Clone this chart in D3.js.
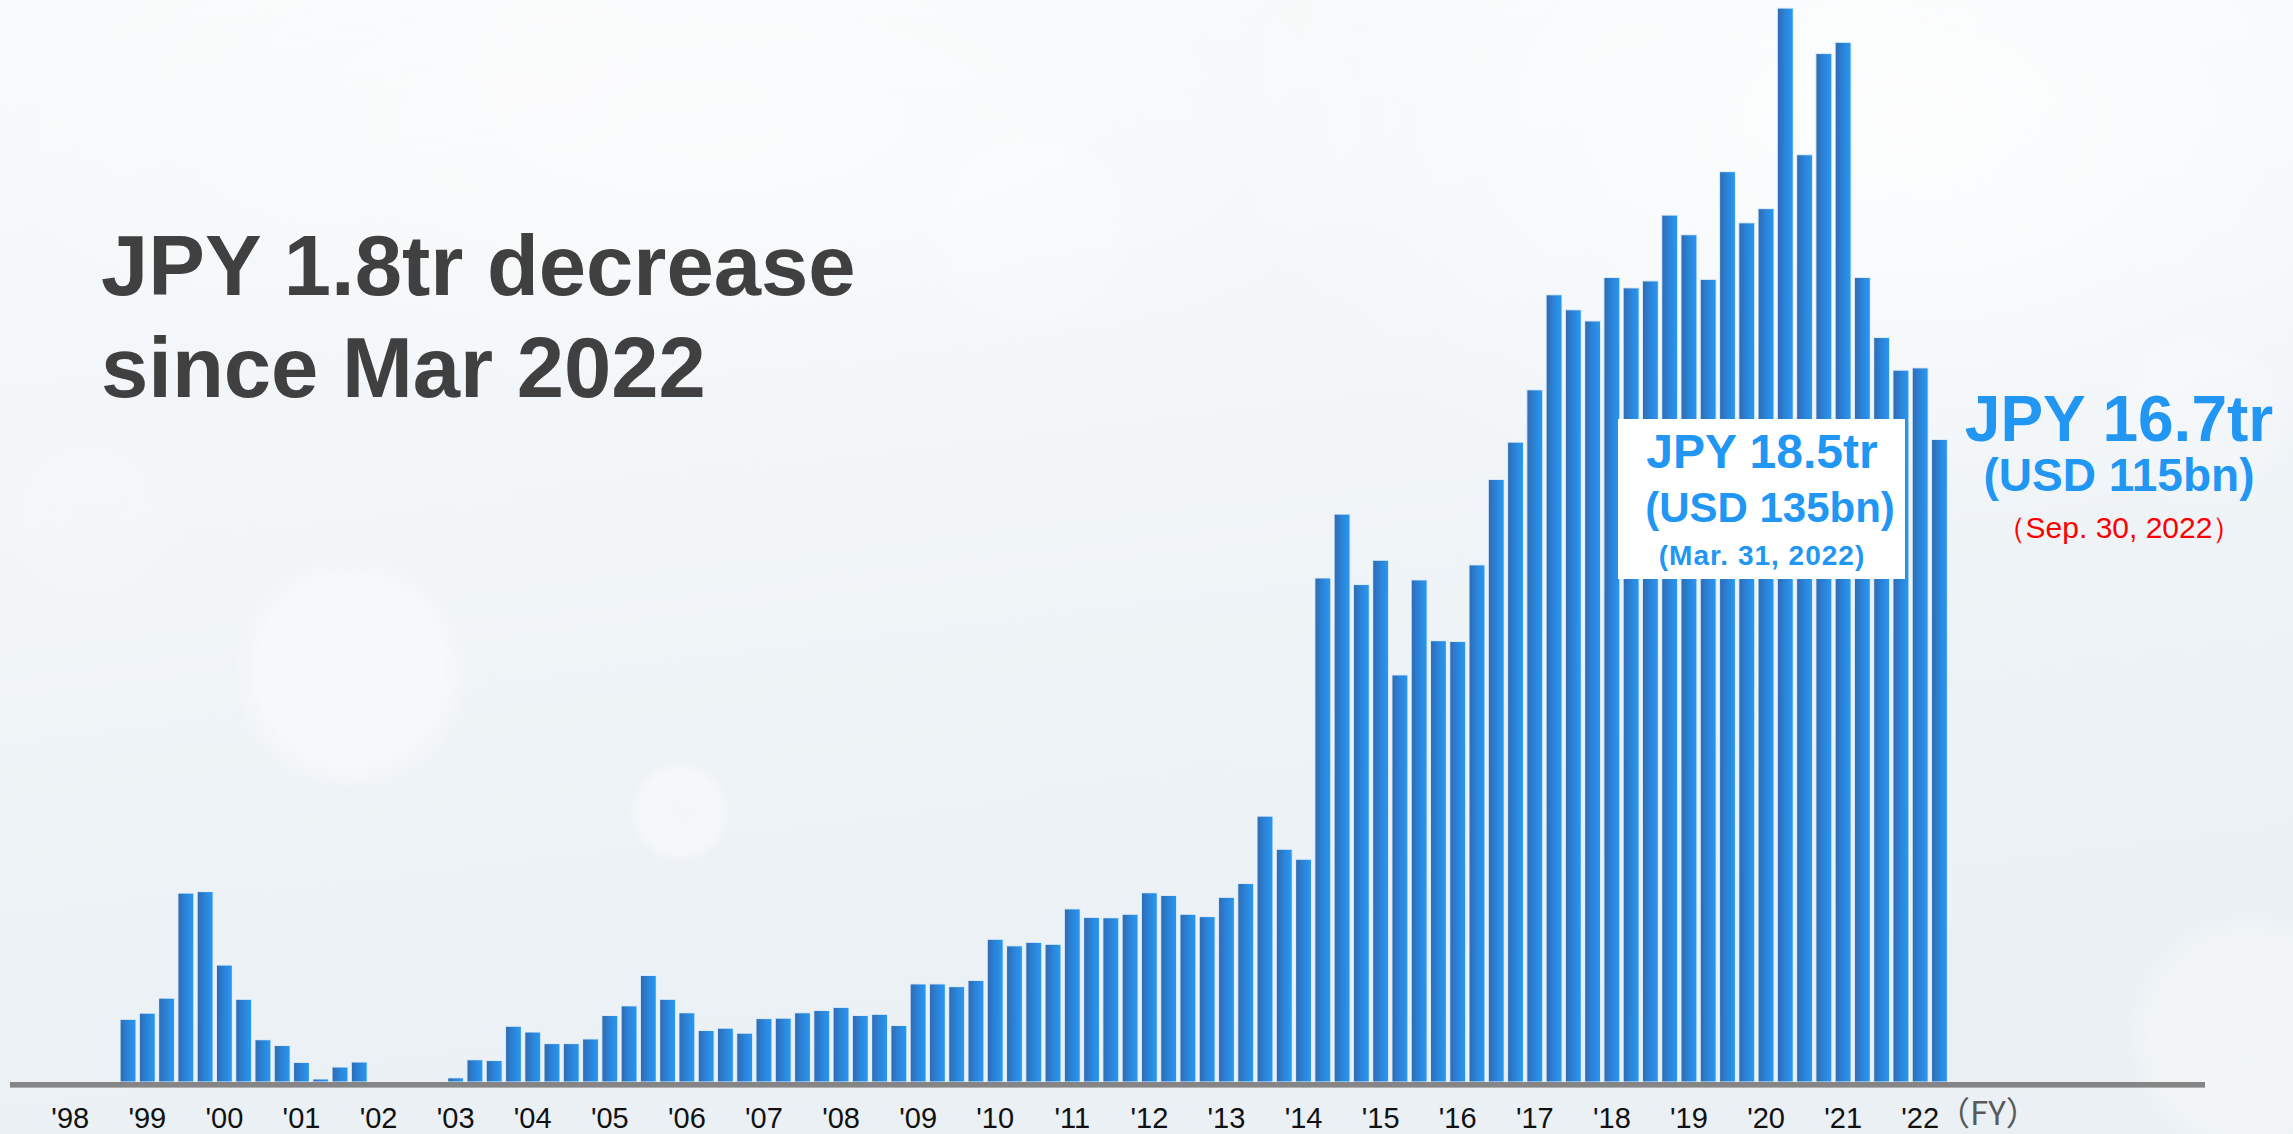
<!DOCTYPE html>
<html>
<head>
<meta charset="utf-8">
<script src="https://cdn.jsdelivr.net/npm/d3@7"></script>
<style>
  html, body { margin: 0; padding: 0; overflow: hidden; background: #f2f6f8; }
  svg { display: block; }
</style>
</head>
<body>
<svg id="chart" width="2293" height="1134"></svg>
<script>
// Quarterly balance, JPY trillion, FY1998 Q1 through FY2022 Q2 (fiscal year starts in April)
const fiscalYears = d3.range(1998, 2023);
const quarterNames = ["Q1", "Q2", "Q3", "Q4"];
const quarterKeys = fiscalYears
  .flatMap(fy => quarterNames.map(q => `FY${fy}${q}`))
  .slice(0, 98);

const balanceTrillionYen = [
  null, null, null, 1.63,        // FY98
  1.79, 2.18, 4.91, 4.95,        // FY99
  3.04, 2.15, 1.10, 0.95,        // FY00
  0.51, 0.08, 0.39, 0.52,        // FY01
  0, 0, 0, 0,                    // FY02
  0.11, 0.58, 0.56, 1.45,        // FY03
  1.30, 1.00, 1.00, 1.12,        // FY04
  1.73, 1.98, 2.77, 2.15,        // FY05
  1.80, 1.34, 1.40, 1.27,        // FY06
  1.65, 1.66, 1.80, 1.86,        // FY07
  1.94, 1.73, 1.76, 1.47,        // FY08
  2.55, 2.55, 2.48, 2.64,        // FY09
  3.71, 3.54, 3.63, 3.58,        // FY10
  4.50, 4.28, 4.27, 4.36,        // FY11
  4.92, 4.85, 4.36, 4.30,        // FY12
  4.80, 5.16, 6.91, 6.05,        // FY13
  5.79, 13.10, 14.76, 12.93,     // FY14
  13.56, 10.58, 13.05, 11.47,    // FY15
  11.45, 13.44, 15.66, 16.63,    // FY16
  17.99, 20.46, 20.07, 19.78,    // FY17
  20.91, 20.64, 20.82, 22.53,    // FY18
  22.02, 20.86, 23.66, 22.33,    // FY19
  22.70, 27.91, 24.10, 26.73,    // FY20
  27.02, 20.91, 19.35, 18.50,    // FY21
  18.56, 16.70                   // FY22
];

const yearTickLabels = ["'98", "'99", "'00", "'01", "'02", "'03", "'04", "'05", "'06",
  "'07", "'08", "'09", "'10", "'11", "'12", "'13", "'14", "'15", "'16", "'17", "'18",
  "'19", "'20", "'21", "'22"];

const headlineLines = ["JPY 1.8tr decrease", "since Mar 2022"];
const marchNote = ["JPY 18.5tr", "(USD 135bn)", "(Mar. 31, 2022)"];
const septemberNote = ["JPY 16.7tr", "(USD 115bn)", "\uFF08Sep. 30, 2022\uFF09"];

const bars = quarterKeys
  .map((key, i) => ({ key, value: balanceTrillionYen[i] }))
  .filter(d => d.value !== null);

const W = 2293, H = 1134;
const baseY = 1082;
const svg = d3.select("#chart");
const defs = svg.append("defs");

// ---- background: pale sky with soft bokeh discs ----
const bg = defs.append("linearGradient").attr("id", "bgGrad")
  .attr("x1", 0).attr("y1", 0).attr("x2", 0.25).attr("y2", 1);
bg.append("stop").attr("offset", 0).attr("stop-color", "#f8fafb");
bg.append("stop").attr("offset", 0.5).attr("stop-color", "#f1f5f8");
bg.append("stop").attr("offset", 1).attr("stop-color", "#eaf0f4");

const glow = defs.append("radialGradient").attr("id", "glow");
glow.append("stop").attr("offset", 0).attr("stop-color", "#ffffff").attr("stop-opacity", 0.8);
glow.append("stop").attr("offset", 1).attr("stop-color", "#ffffff").attr("stop-opacity", 0);

const bokeh = defs.append("radialGradient").attr("id", "bokeh");
bokeh.append("stop").attr("offset", 0).attr("stop-color", "#ffffff").attr("stop-opacity", 0.45);
bokeh.append("stop").attr("offset", 0.78).attr("stop-color", "#ffffff").attr("stop-opacity", 0.5);
bokeh.append("stop").attr("offset", 0.9).attr("stop-color", "#ffffff").attr("stop-opacity", 0.25);
bokeh.append("stop").attr("offset", 1).attr("stop-color", "#ffffff").attr("stop-opacity", 0);

svg.append("rect").attr("width", W).attr("height", H).attr("fill", "url(#bgGrad)");
svg.append("ellipse").attr("cx", 1900).attr("cy", 120).attr("rx", 700).attr("ry", 420)
  .attr("fill", "url(#glow)");
svg.append("ellipse").attr("cx", 700).attr("cy", 120).attr("rx", 800).attr("ry", 300)
  .attr("fill", "url(#glow)").attr("opacity", 0.6);

const discs = [
  [351, 673, 118, 0.9], [680, 812, 52, 0.8], [2250, 1035, 125, 0.7],
  [1031, 228, 105, 0.4], [560, 70, 95, 0.35], [1480, 1010, 70, 0.35],
  [90, 520, 80, 0.3], [2200, 420, 90, 0.35]
];
svg.append("g").selectAll("circle").data(discs).join("circle")
  .attr("cx", d => d[0]).attr("cy", d => d[1]).attr("r", d => d[2])
  .attr("opacity", d => d[3]).attr("fill", "url(#bokeh)");

// ---- scales ----
const x = d3.scaleBand()
  .domain(quarterKeys)
  .range([60.6, 1949.1])
  .paddingInner(0.17)
  .paddingOuter(0.085);

const y = d3.scaleLinear().domain([0, 28]).range([baseY, 4.6]);

// ---- bars ----
const barGrad = defs.append("linearGradient").attr("id", "barGrad")
  .attr("x1", 0).attr("y1", 0).attr("x2", 1).attr("y2", 0);
barGrad.append("stop").attr("offset", 0).attr("stop-color", "#2e6ab2");
barGrad.append("stop").attr("offset", 0.5).attr("stop-color", "#2b84d9");
barGrad.append("stop").attr("offset", 1).attr("stop-color", "#2799f4");

svg.append("g").selectAll("rect").data(bars).join("rect")
  .attr("x", d => x(d.key))
  .attr("width", x.bandwidth())
  .attr("y", d => y(d.value))
  .attr("height", d => y(0) - y(d.value))
  .attr("fill", "url(#barGrad)")
  .attr("stroke", "rgba(235,244,252,0.85)")
  .attr("stroke-width", 1.2);

// ---- axis ----
svg.append("rect").attr("x", 10).attr("y", baseY).attr("width", 2195).attr("height", 5.6)
  .attr("fill", "#858585");

const xAxis = d3.axisBottom(x)
  .tickValues(fiscalYears.map(fy => `FY${fy}Q1`))
  .tickFormat((d, i) => yearTickLabels[i])
  .tickSize(0)
  .tickPadding(20);

const axisG = svg.append("g").attr("transform", `translate(0,${baseY + 5.6})`).call(xAxis);
axisG.select(".domain").remove();
axisG.selectAll("text")
  .attr("fill", "#111")
  .style("font-family", "'Liberation Sans Narrow', 'Liberation Sans', sans-serif")
  .style("font-size", "29px");

svg.append("text")
  .attr("x", 1937).attr("y", 1125)
  .attr("fill", "#595959")
  .style("font-family", "'Noto Sans CJK JP', 'Liberation Sans', sans-serif")
  .style("font-size", "33px")
  .text("\uFF08FY\uFF09");

// ---- headline ----
svg.append("g").selectAll("text").data(headlineLines).join("text")
  .attr("x", 101)
  .attr("y", (d, i) => 295 + i * 102)
  .attr("fill", "#404040")
  .style("font-family", "'Liberation Sans', Arial, sans-serif")
  .style("font-weight", "bold")
  .style("font-size", "85px")
  .text(d => d);

// ---- March 2022 note (boxed) ----
const blue = "#2196f3";
svg.append("rect").attr("x", 1618).attr("y", 419).attr("width", 287).attr("height", 160)
  .attr("fill", "#ffffff");
const marchSizes = [48, 42, 28];
const marchBase = [468, 522, 565];
svg.append("g").selectAll("text").data(marchNote).join("text")
  .attr("x", (d, i) => i === 1 ? 1770 : 1762)
  .attr("y", (d, i) => marchBase[i])
  .attr("text-anchor", "middle")
  .attr("fill", blue)
  .style("font-family", "'Liberation Sans', Arial, sans-serif")
  .style("font-weight", "bold")
  .style("font-size", (d, i) => marchSizes[i] + "px")
  .style("letter-spacing", (d, i) => i === 2 ? "1px" : "0px")
  .text(d => d);

// ---- September 2022 note ----
const sepSizes = [64, 46, 30];
const sepBase = [441, 491, 538];
svg.append("g").selectAll("text").data(septemberNote).join("text")
  .attr("x", 2119)
  .attr("y", (d, i) => sepBase[i])
  .attr("text-anchor", "middle")
  .attr("fill", (d, i) => i === 2 ? "#ff0000" : blue)
  .style("font-family", "'Liberation Sans', Arial, sans-serif")
  .style("font-weight", (d, i) => i === 2 ? "normal" : "bold")
  .style("font-size", (d, i) => sepSizes[i] + "px")
  .text(d => d);
</script>
</body>
</html>
